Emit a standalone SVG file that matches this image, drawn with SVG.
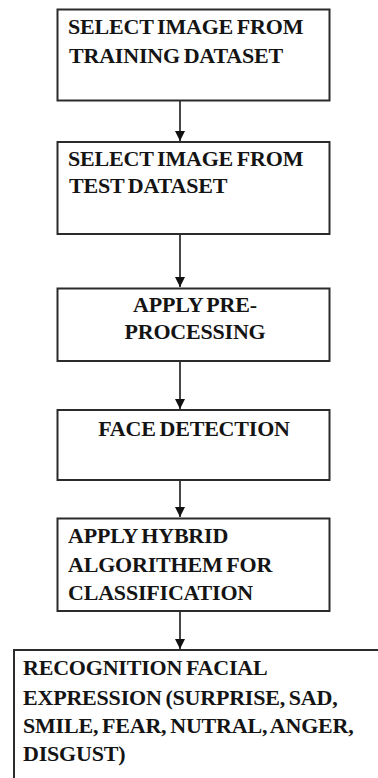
<svg xmlns="http://www.w3.org/2000/svg" width="378" height="778" viewBox="0 0 378 778">
<defs>
<style>
.box{fill:#fff;stroke:#2b2b2b;stroke-width:2}
.t{font-family:'Liberation Serif','Times New Roman',serif;font-weight:700;font-size:22px;word-spacing:-1.5px;letter-spacing:-0.2px;fill:#141414}
.c{text-anchor:middle}
.ln{stroke:#1a1a1a;stroke-width:1.6;fill:none}
</style>
<marker id="ah" viewBox="0 0 10 10" refX="10" refY="5" markerWidth="10" markerHeight="10" markerUnits="userSpaceOnUse" orient="auto">
<path d="M0,0 L10,5 L0,10 z" fill="#111"/>
</marker>
</defs>
<rect width="378" height="778" fill="#fff"/>
<g id="connectors">
<line class="ln" x1="180" y1="101" x2="180" y2="141" marker-end="url(#ah)"/>
<line class="ln" x1="180" y1="235" x2="180" y2="287" marker-end="url(#ah)"/>
<line class="ln" x1="180" y1="362" x2="180" y2="409" marker-end="url(#ah)"/>
<line class="ln" x1="180" y1="481" x2="180" y2="517" marker-end="url(#ah)"/>
<line class="ln" x1="180" y1="612" x2="180" y2="649" marker-end="url(#ah)"/>
</g>
<g id="n1">
<rect class="box" x="57.5" y="9.5" width="272" height="91"/>
<text class="t" x="68" y="34">SELECT IMAGE FROM</text>
<text class="t" x="69" y="63">TRAINING DATASET</text>
</g>
<g id="n2">
<rect class="box" x="57.5" y="142" width="272" height="92"/>
<text class="t" x="68" y="165.5">SELECT IMAGE FROM</text>
<text class="t" x="69" y="193">TEST DATASET</text>
</g>
<g id="n3">
<rect class="box" x="57.5" y="288.5" width="272" height="72.5"/>
<text class="t c" x="195" y="311.5">APPLY PRE-</text>
<text class="t c" x="195" y="339">PROCESSING</text>
</g>
<g id="n4">
<rect class="box" x="57.5" y="410" width="272" height="70"/>
<text class="t c" x="194" y="435.5">FACE DETECTION</text>
</g>
<g id="n5">
<rect class="box" x="57.5" y="518.5" width="272" height="92.5"/>
<text class="t" x="68" y="543">APPLY HYBRID</text>
<text class="t" x="68" y="572">ALGORITHEM FOR</text>
<text class="t" x="68" y="600">CLASSIFICATION</text>
</g>
<g id="n6">
<rect class="box" x="14" y="650" width="400" height="160"/>
<text class="t" x="23" y="675">RECOGNITION FACIAL</text>
<text class="t" x="23" y="705">EXPRESSION (SURPRISE, SAD,</text>
<text class="t" x="23" y="733">SMILE, FEAR, NUTRAL, ANGER,</text>
<text class="t" x="23" y="761">DISGUST)</text>
</g>
</svg>
